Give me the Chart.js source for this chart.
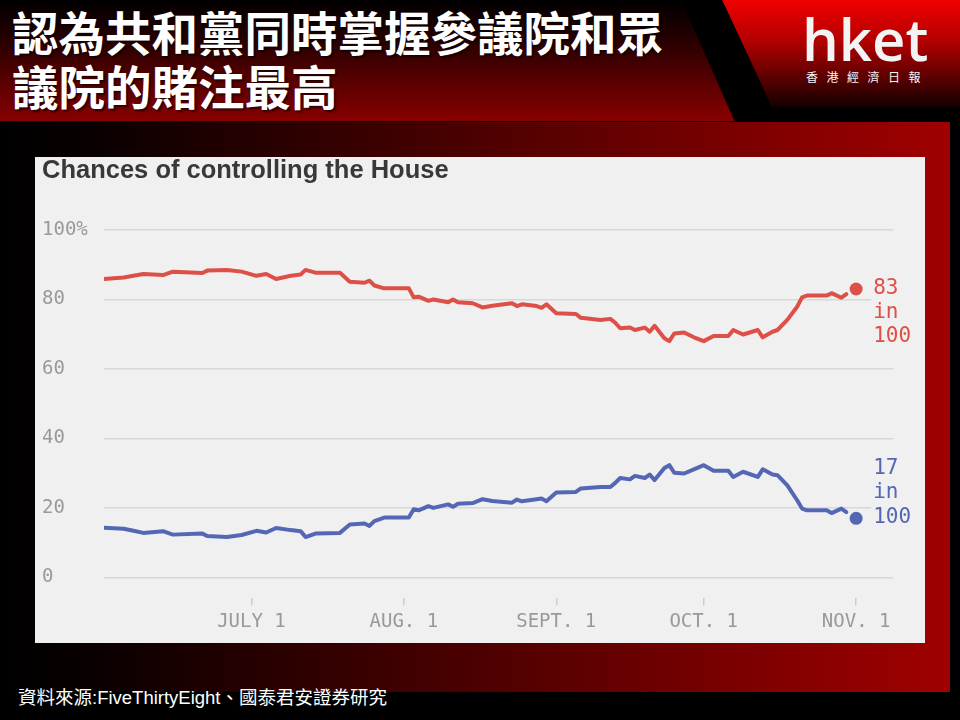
<!DOCTYPE html>
<html lang="zh-Hant">
<head>
<meta charset="UTF-8">
<title>認為共和黨同時掌握參議院和眾議院的賭注最高</title>
<style>
  body { margin: 0; width: 960px; height: 720px; background: #000; position: relative; overflow: hidden; font-family: "Noto Sans CJK TC", sans-serif; }
  .header { position: absolute; left: 0; top: 0; width: 960px; height: 121px; background: linear-gradient(to bottom, #000 0%, #2a0000 35%, #880000 100%); }
  .stripe { position: absolute; left: 0; top: 0; width: 960px; height: 122px; background: #000;
    clip-path: polygon(681px 0, 722px 0, 772px 107px, 960px 107px, 960px 122px, 735px 122px); }
  .logo-bg { position: absolute; left: 0; top: 0; width: 960px; height: 107px;
    background: linear-gradient(to bottom, #f00000 0%, #b00000 40%, #140000 100%);
    clip-path: polygon(722px 0, 960px 0, 960px 107px, 772px 107px); }
  .headline { position: absolute; left: 12px; top: 4px; color: #fff; font-size: 46.5px; font-weight: 700; line-height: 54px; text-shadow: 2px 2px 2px rgba(0,0,0,0.6); white-space: nowrap; }
  .logo { position: absolute; left: 802px; top: 4px; color: #f4f4f4; font-family: "Open Sans", sans-serif; font-weight: 600; font-size: 58px; line-height: 70px; }
  .logo-sub { position: absolute; left: 806px; top: 69px; color: #f4f4f4; font-size: 12px; line-height: 16px; letter-spacing: 8.5px; }
  .panel { position: absolute; left: 0; top: 122px; width: 950px; height: 570px; background: linear-gradient(to right, #000 0%, #0a0000 10%, #a00000 100%); }
  .chart-box { position: absolute; left: 35px; top: 157px; width: 890px; height: 486px; background: #f0f0f0; }
  .source { position: absolute; left: 18px; top: 686px; color: #fff; font-family: "Liberation Sans", "Noto Sans CJK TC", sans-serif; font-size: 18.5px; line-height: 24px; white-space: nowrap; }
</style>
</head>
<body>
  <div class="header"></div>
  <div class="logo-bg"></div>
  <div class="stripe"></div>
  <div class="headline">認為共和黨同時掌握參議院和眾<br>議院的賭注最高</div>
  <div class="logo">hket</div>
  <div class="logo-sub">香港經濟日報</div>

  <div class="panel"></div>
  <div class="chart-box">
    <canvas id="myChart"></canvas>
  </div>
  <div class="source">資料來源:FiveThirtyEight、國泰君安證券研究</div>

  <script src="https://cdn.jsdelivr.net/npm/chart.js"></script>
  <script>
    // 日數 (6月1日 = 0)
    const days = [0, 4, 6, 8, 12, 14, 20, 21, 25, 28, 31, 33, 35, 38, 40, 41, 43, 48, 50, 53,
      54, 55, 57, 62, 63, 64, 66, 67, 70, 71, 72, 75, 77, 79, 83, 84, 85, 88, 89, 90,
      92, 96, 97, 101, 103, 104, 105, 107, 108, 110, 111, 112, 114, 115, 116, 118, 120, 122, 124, 127,
      128, 130, 133, 134, 136, 137, 139, 141, 142, 143, 147, 148, 150, 151];

    // 共和黨 (紅)
    const republicans = [85.9, 86.3, 86.8, 87.3, 87.0, 88.0, 87.6, 88.3, 88.5, 88.0, 86.8, 87.3, 85.9, 86.8, 87.2, 88.5, 87.7, 87.7, 85.1, 84.8,
      85.4, 84.0, 83.2, 83.2, 80.6, 80.8, 79.6, 80.0, 79.2, 80.0, 79.2, 78.9, 77.7, 78.2, 78.9, 78.1, 78.6, 78.1, 77.6, 78.6,
      76.0, 75.8, 74.7, 74.1, 74.4, 73.3, 71.7, 71.9, 71.2, 71.9, 70.7, 72.4, 68.8, 68.0, 70.2, 70.5, 69.1, 68.0, 69.5, 69.5,
      71.2, 69.9, 71.2, 69.1, 70.7, 71.2, 74.1, 77.9, 80.6, 81.1, 81.1, 81.8, 80.5, 81.5];

    // 民主黨 (藍)
    const democrats = [14.3, 14.0, 13.4, 12.8, 13.3, 12.3, 12.6, 11.9, 11.6, 12.2, 13.4, 12.9, 14.2, 13.6, 13.3, 11.6, 12.6, 12.8, 15.2, 15.5,
      14.8, 16.2, 17.2, 17.2, 19.6, 19.3, 20.5, 20.0, 21.0, 20.3, 21.2, 21.4, 22.5, 22.0, 21.5, 22.4, 21.9, 22.5, 22.7, 21.9,
      24.4, 24.6, 25.6, 26.0, 26.0, 27.2, 28.6, 28.2, 29.2, 28.6, 29.6, 28.0, 31.5, 32.3, 30.1, 29.9, 31.1, 32.3, 30.7, 30.7,
      28.9, 30.4, 28.9, 31.1, 29.6, 29.4, 26.5, 22.2, 19.8, 19.3, 19.3, 18.5, 19.8, 18.8];

    // 最新預測 (11月1日)
    const finalDay = 153;
    const repFinal = 83;
    const demFinal = 17;
    const repLabel = ['83', 'in', '100'];
    const demLabel = ['17', 'in', '100'];

    const tickDays = [30, 61, 92, 122, 153];
    const tickLabels = ['JULY 1', 'AUG. 1', 'SEPT. 1', 'OCT. 1', 'NOV. 1'];
    const yTicks = [0, 20, 40, 60, 80, 100];
    const chartTitle = 'Chances of controlling the House';

    const RED = '#dd5048';
    const BLUE = '#5467b4';
    const monoFont = 'DejaVu Sans Mono';

    const toPoints = (ys) => ys.map((y, i) => ({ x: days[i], y: y }));

    // 終點標籤
    const endLabels = {
      id: 'endLabels',
      afterDatasetsDraw(chart) {
        const ctx = chart.ctx;
        const items = [
          { index: 2, lines: repLabel, color: RED, dir: 1 },
          { index: 3, lines: demLabel, color: BLUE, dir: -1 }
        ];
        ctx.save();
        ctx.font = '21px "' + monoFont + '"';
        ctx.textBaseline = 'middle';
        ctx.textAlign = 'left';
        items.forEach(item => {
          const p = chart.getDatasetMeta(item.index).data[0];
          const x = p.x + 17;
          const ys = item.lines.map((t, i) => item.dir > 0 ? p.y + i * 24 : p.y - 1 - (item.lines.length - 1 - i) * 24.5);
          ctx.fillStyle = '#f0f0f0';
          ctx.fillRect(x - 2, Math.min(...ys) - 12, 46, Math.max(...ys) - Math.min(...ys) + 24);
          ctx.fillStyle = item.color;
          item.lines.forEach((t, i) => ctx.fillText(t, x, ys[i]));
        });
        ctx.restore();
      }
    };

    const ctx = document.getElementById('myChart').getContext('2d');
    const myChart = new Chart(ctx, {
      type: 'line',
      data: {
        datasets: [
          { data: toPoints(republicans), borderColor: RED, borderWidth: 4, pointRadius: 0, borderJoinStyle: 'round', borderCapStyle: 'round', fill: false },
          { data: toPoints(democrats), borderColor: BLUE, borderWidth: 4, pointRadius: 0, borderJoinStyle: 'round', borderCapStyle: 'round', fill: false },
          { data: [{ x: finalDay, y: repFinal }], showLine: false, pointRadius: 6.5, pointBackgroundColor: RED, pointBorderWidth: 0 },
          { data: [{ x: finalDay, y: demFinal }], showLine: false, pointRadius: 6.5, pointBackgroundColor: BLUE, pointBorderWidth: 0 }
        ]
      },
      options: {
        responsive: true,
        maintainAspectRatio: false,
        animation: false,
        layout: { padding: { left: 7, right: 32, top: 0, bottom: 5 } },
        plugins: {
          legend: { display: false },
          tooltip: { enabled: false },
          title: {
            display: true,
            text: chartTitle,
            align: 'start',
            color: '#383838',
            font: { family: 'Liberation Sans', size: 25.5, weight: 'bold', lineHeight: 1.1 },
            padding: { top: 0, bottom: 44.9 }
          }
        },
        scales: {
          x: {
            type: 'linear',
            min: 0,
            max: 160.5,
            border: { display: false },
            grid: { drawOnChartArea: false, drawTicks: true, tickLength: 7, color: '#cccccc', lineWidth: 1.5 },
            ticks: {
              color: '#999999',
              font: { family: monoFont, size: 19 },
              padding: 5,
              maxRotation: 0,
              callback: (value, index) => tickLabels[index]
            },
            afterBuildTicks: (scale) => { scale.ticks = tickDays.map(v => ({ value: v })); }
          },
          y: {
            min: -6,
            max: 100,
            border: { display: false },
            grid: { color: '#d8d8d8', lineWidth: 1.5, drawTicks: false },
            ticks: {
              color: '#999999',
              font: { family: monoFont, size: 19 },
              crossAlign: 'far',
              callback: (value) => value === 100 ? '100%' : value
            },
            afterBuildTicks: (scale) => { scale.ticks = yTicks.map(v => ({ value: v })); },
            afterFit: (scale) => { scale.width = 62; }
          }
        }
      },
      plugins: [endLabels]
    });
  </script>
</body>
</html>
